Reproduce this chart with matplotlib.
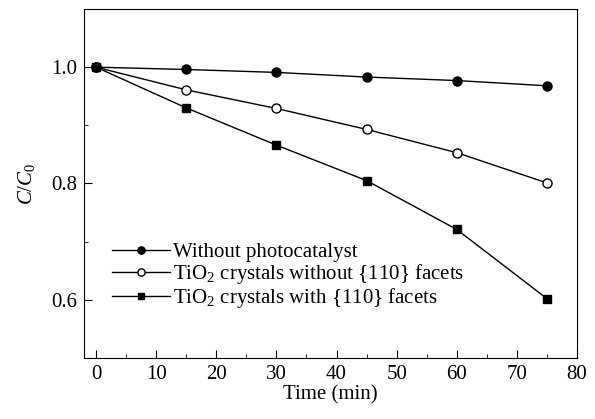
import matplotlib
matplotlib.use("Agg")
import matplotlib.pyplot as plt
from matplotlib.ticker import MultipleLocator

plt.rcParams['font.family'] = ['Liberation Serif', 'DejaVu Serif']
plt.rcParams['mathtext.fontset'] = 'custom'
plt.rcParams['mathtext.rm'] = 'Liberation Serif'
plt.rcParams['mathtext.it'] = 'Liberation Serif:italic'

# Zeit (min)
czas = [0, 15, 30, 45, 60, 75]
# C/C0 dla trzech próbek
bez_kat = [1.0, 0.996, 0.991, 0.983, 0.977, 0.968]
bez_110 = [1.0, 0.961, 0.929, 0.893, 0.853, 0.801]
z_110 = [1.0, 0.930, 0.866, 0.805, 0.721, 0.602]
etykiety = ["Without photocatalyst",
            "TiO$_2$ crystals without {110} facets",
            "TiO$_2$ crystals with {110} facets"]

fig = plt.figure(figsize=(5.95, 4.19), dpi=100)
ax = fig.add_axes([84/595, 1 - 358/419, (577-84)/595, (358-9)/419])

ax.plot(czas, bez_kat, "k-o", lw=1, ms=6.5, mfc="black", label=etykiety[0])
ax.plot(czas, bez_110, "k-o", lw=1, ms=6.5, mfc="white", label=etykiety[1])
ax.plot(czas, z_110, "k-s", lw=1, ms=6, mfc="black", label=etykiety[2])

ax.set_xlim(-2, 80)
ax.set_ylim(0.5, 1.1)
ax.xaxis.set_major_locator(MultipleLocator(10))
ax.xaxis.set_minor_locator(MultipleLocator(5))
ax.yaxis.set_minor_locator(MultipleLocator(0.1))
ax.set_yticks([0.6, 0.8, 1.0])
ax.set_yticklabels(["0.6", "0.8", "1.0"])
ax.tick_params(which="both", direction="in", labelsize=15, top=False, right=False)
ax.tick_params(which="major", length=6, pad=5)
ax.tick_params(which="minor", length=3)

ax.set_xlabel("Time (min)", fontsize=15, labelpad=1)
ax.set_ylabel("$C$/$C$$_0$", fontsize=15)
ax.yaxis.set_label_coords(-0.095, 0.5)

ax.legend(loc="upper left", bbox_to_anchor=(0.057, 0.331), frameon=False, fontsize=15,
          handlelength=2.8, handletextpad=0.1, labelspacing=0.0, borderaxespad=0,
          borderpad=0, markerscale=0.8)

fig.savefig("out.png", dpi=100)
